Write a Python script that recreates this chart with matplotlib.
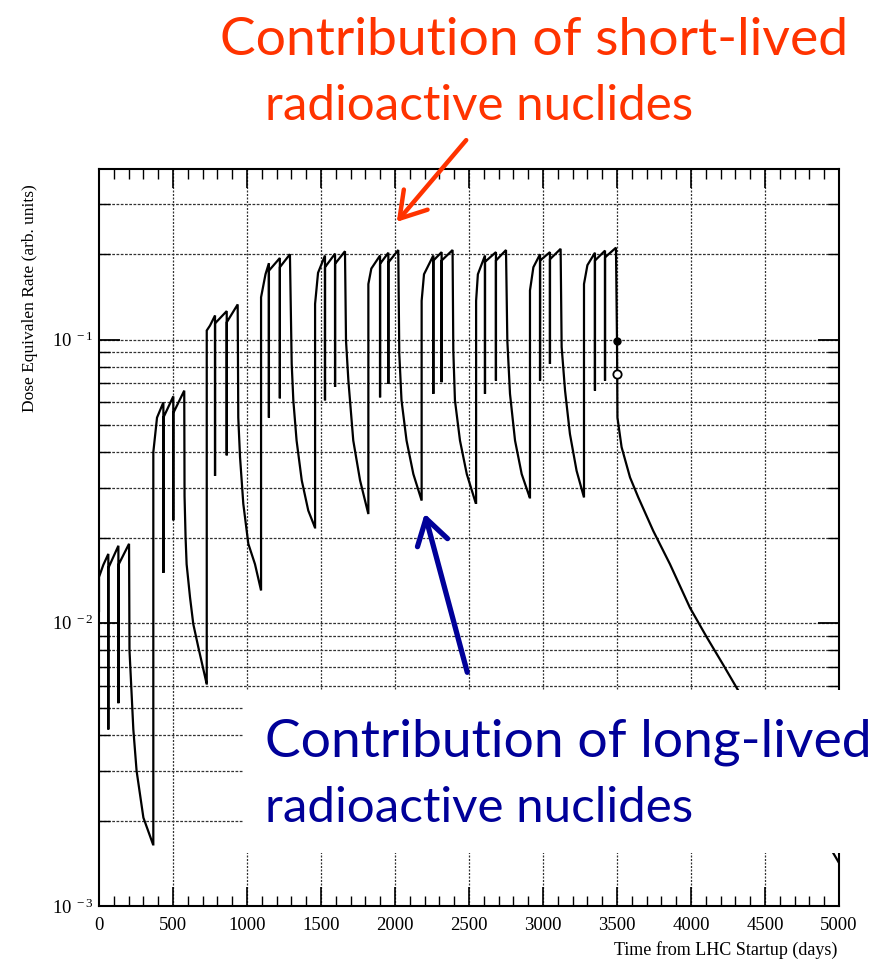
import matplotlib
matplotlib.use("Agg")
import matplotlib.pyplot as plt
from matplotlib.patches import Rectangle, FancyArrowPatch
from matplotlib.ticker import FixedLocator, MultipleLocator, NullFormatter

plt.rcParams['mathtext.fontset'] = 'custom'
plt.rcParams['mathtext.rm'] = 'Liberation Serif'
plt.rcParams['mathtext.it'] = 'Liberation Serif'

# ---- dose-rate history: one entry per year of operation ----
first_value = 0.011
rise_day = [0, 367, 728, 1095, 1460, 1820, 2180, 2548, 2912, 3277]
rise_val = [0.0145, 0.040, 0.1076, 0.141, 0.1336, 0.157, 0.137, 0.137, 0.149, 0.157]
knee_day = [29, 392, 750, 1125, 1480, 1840, 2196, 2560, 2935, 3300]
knee_val = [0.016, 0.053, 0.112, 0.170, 0.172, 0.178, 0.170, 0.170, 0.180, 0.183]
peak_day = [[63, 131, 203], [435, 502, 576], [784, 863, 937], [1148, 1222, 1290],
            [1527, 1595, 1662], [1899, 1955, 2022], [2259, 2315, 2389],
            [2608, 2682, 2750], [2980, 3047, 3119], [3351, 3419, 3493]]
peak_val = [[0.0175, 0.0187, 0.019], [0.060, 0.063, 0.066], [0.1216, 0.126, 0.133],
            [0.186, 0.194, 0.200], [0.198, 0.201, 0.205], [0.198, 0.2025, 0.207],
            [0.198, 0.2035, 0.207], [0.198, 0.2035, 0.207], [0.200, 0.2035, 0.209],
            [0.2025, 0.206, 0.211]]
dip_val = [[0.0042, 0.0052], [0.015, 0.023], [0.033, 0.039], [0.053, 0.062],
           [0.061, 0.068], [0.0625, 0.0698], [0.0643, 0.0707], [0.0643, 0.0716],
           [0.0716, 0.082], [0.066, 0.0716]]
restart_val = [[0.0156, 0.016], [0.053, 0.055], [0.114, 0.115], [0.175, 0.180],
               [0.180, 0.185], [0.185, 0.187], [0.190, 0.190], [0.188, 0.190],
               [0.190, 0.192], [0.190, 0.195]]
decay_day = [[206, 216, 232, 254, 300, 365],
             [578, 585, 592, 615, 637, 671, 727],
             [941, 953, 975, 1009, 1054, 1095],
             [1302, 1313, 1335, 1370, 1414, 1459],
             [1669, 1685, 1718, 1764, 1820],
             [2029, 2044, 2078, 2124, 2180],
             [2394, 2405, 2439, 2485, 2545],
             [2759, 2777, 2811, 2856, 2910],
             [3126, 3149, 3182, 3227, 3277],
             [3500, 3503, 3531, 3588, 3644, 3745, 3858, 3993, 4106, 4218, 4308, 5000]]
decay_val = [[0.008, 0.0062, 0.0042, 0.0030, 0.00205, 0.00165],
             [0.028, 0.020, 0.0161, 0.0123, 0.0099, 0.0082, 0.0061],
             [0.053, 0.0384, 0.0263, 0.019, 0.0161, 0.013],
             [0.082, 0.061, 0.044, 0.0318, 0.0249, 0.0217],
             [0.099, 0.0716, 0.044, 0.0318, 0.0242],
             [0.089, 0.061, 0.044, 0.0335, 0.027],
             [0.0914, 0.061, 0.044, 0.0335, 0.0265],
             [0.099, 0.0643, 0.044, 0.0335, 0.0277],
             [0.094, 0.066, 0.0464, 0.0344, 0.0277],
             [0.099, 0.053, 0.0417, 0.0326, 0.0277, 0.0211, 0.0161, 0.0113, 0.0089,
              0.0071, 0.0059, 0.00142]]
shutdown_day = [3500, 3500]
shutdown_val = [0.099, 0.0756]

xtick_vals = list(range(0, 5001, 500))
xtick_text = [str(v) for v in xtick_vals]
ytick_vals = [1e-3, 1e-2, 1e-1]
ytick_text = [r'$10^{\ -3}$', r'$10^{\ -2}$', r'$10^{\ -1}$']

# ---- assemble the polyline ----
xs, ys = [], []
prev = first_value
for i in range(len(rise_day)):
    xs += [rise_day[i], rise_day[i], knee_day[i]]
    ys += [prev, rise_val[i], knee_val[i]]
    for j in range(3):
        xs.append(peak_day[i][j]); ys.append(peak_val[i][j])
        if j < 2:
            xs += [peak_day[i][j], peak_day[i][j]]
            ys += [dip_val[i][j], restart_val[i][j]]
    xs += decay_day[i]
    ys += decay_val[i]
    prev = decay_val[i][-1]

W, H = 886, 961
fig = plt.figure(figsize=(W / 100, H / 100), dpi=100)
fig.patch.set_facecolor('white')

def fx(px):
    return px / W

def fy(py):
    return 1 - py / H

ax = fig.add_axes([fx(99), fy(906), fx(839) - fx(99), fy(169) - fy(906)])
ax.set_yscale('log')
ax.set_xlim(0, 5000)
ax.set_ylim(1e-3, 0.4)

ax.plot(xs, ys, color='black', lw=1.6, solid_joinstyle='miter', zorder=3)
ax.plot(shutdown_day[:1], shutdown_val[:1], 'o', color='black', ms=5, zorder=4)
ax.plot(shutdown_day[1:], shutdown_val[1:], 'o', mfc='white', mec='black', mew=1.3,
        ms=6, zorder=4)

# grid
grid_kw = dict(color='#333333', lw=0.9, zorder=1)
ax.xaxis.set_major_locator(FixedLocator(xtick_vals))
ax.xaxis.set_minor_locator(MultipleLocator(100))
ax.set_xticklabels(xtick_text, family='Liberation Serif', fontsize=13.5)
ax.yaxis.set_major_locator(FixedLocator(ytick_vals))
minor_y = [k * 10.0 ** e for e in (-3, -2, -1) for k in range(2, 10) if k * 10.0 ** e < 0.4]
ax.yaxis.set_minor_locator(FixedLocator(minor_y))
ax.yaxis.set_minor_formatter(NullFormatter())
ax.set_yticklabels(ytick_text, fontsize=13.5)
for v in xtick_vals[1:-1]:
    ax.axvline(v, ls=(0, (1.6, 1.2)), **grid_kw)
for v in ytick_vals[1:] + minor_y:
    ax.axhline(v, ls=(0, (2.2, 1.2)), **grid_kw)

ax.tick_params(which='both', direction='in', top=True, right=True, colors='black')
ax.tick_params(axis='x', which='major', length=14, width=1.2, pad=8)
ax.tick_params(axis='x', which='minor', length=7, width=1.0)
ax.tick_params(axis='y', which='major', length=15, width=1.3, pad=4)
ax.tick_params(axis='y', which='minor', length=8, width=1.0)
for s in ax.spines.values():
    s.set_linewidth(1.5)

fig.text(fx(30), fy(298), 'Dose Equivalen Rate (arb. units)', rotation=90,
         ha='center', va='center', family='Liberation Serif', fontsize=12.5)
fig.text(fx(837), fy(950), 'Time from LHC Startup (days)', ha='right', va='center',
         family='Liberation Serif', fontsize=13)

# white panel carrying the long-lived label
fig.add_artist(Rectangle((fx(243), fy(853)), fx(886) - fx(243), fy(690) - fy(853),
                         transform=fig.transFigure, facecolor='white',
                         edgecolor='none', zorder=10))

red = '#ff3300'
blue = '#000099'
tk = dict(family='Lato', va='baseline', ha='left', zorder=12)
fig.text(fx(220), fy(55), 'Contribution of short-lived', color=red, fontsize=38.5, **tk)
fig.text(fx(265), fy(120), 'radioactive nuclides', color=red, fontsize=35.5, **tk)
fig.text(fx(265), fy(757), 'Contribution of long-lived', color=blue, fontsize=38.5, **tk)
fig.text(fx(265), fy(822), 'radioactive nuclides', color=blue, fontsize=35.5, **tk)

fig.add_artist(FancyArrowPatch((fx(468), fy(138)), (fx(395), fy(224)),
                               transform=fig.transFigure,
                               arrowstyle='->,head_length=0.45,head_width=0.28',
                               mutation_scale=40, color=red, lw=3.2,
                               capstyle='round', joinstyle='round', zorder=12))
fig.add_artist(FancyArrowPatch((fx(468), fy(675)), (fx(424), fy(511)),
                               transform=fig.transFigure,
                               arrowstyle='->,head_length=0.45,head_width=0.28',
                               mutation_scale=40, color=blue, lw=3.8,
                               capstyle='round', joinstyle='round', zorder=12))

fig.savefig('out.png', dpi=100, facecolor='white')
